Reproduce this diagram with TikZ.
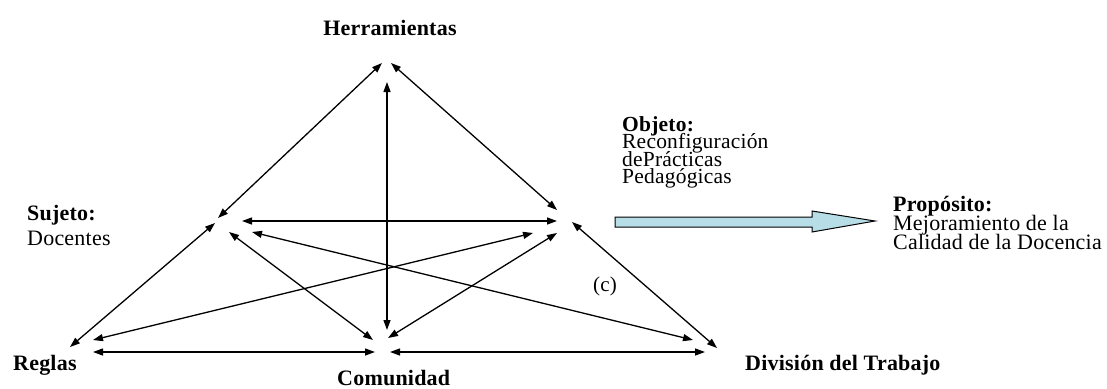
\documentclass[tikz,border=0pt]{standalone}
\usepackage{fontspec}
\setmainfont{Liberation Serif}[LetterSpace=1]
\usetikzlibrary{arrows.meta}
\definecolor{arrowblue}{RGB}{183,222,230}
\newcommand\tightlead{\lineskiplimit=-20pt\relax}
\tikzset{
  link/.style={line width=1.3pt, {Triangle[length=10pt,width=7pt]}-{Triangle[length=10pt,width=7pt]}},
  lbl/.style={inner sep=0pt, font=\fontsize{22}{22}\selectfont\bfseries},
  txt/.style={inner sep=0pt, align=left, anchor=north west},
}

\begin{document}
\begin{tikzpicture}[x=1pt, y=-1pt]
    \useasboundingbox (0,0) rectangle (1107,388);
    % corner labels
    \node[lbl, anchor=base] (herr) at (390,35) {Herramientas};
    \node[lbl, anchor=base west] (reglas) at (13,370) {Reglas};
    \node[lbl, anchor=base west] (comun) at (337,385) {Comunidad};
    \node[lbl, anchor=base west] (divis) at (745,370) {División del Trabajo};
    \node[txt, font={\fontsize{22}{25}\selectfont\tightlead}] (sujeto) at (27,205.5) {\textbf{Sujeto:}\\Docentes};
    \node[txt, font={\fontsize{21.5}{17.3}\selectfont\tightlead}] (objeto) at (622,116.5) {\textbf{Objeto:}\\Reconfiguración\\dePrácticas\\Pedagógicas};
    \node[txt, font={\fontsize{22}{19}\selectfont\tightlead}] (proposito) at (893,196.5) {\textbf{Propósito:}\\Mejoramiento de la\\Calidad de la Docencia};
    \node[inner sep=0pt, anchor=base west, font=\fontsize{21}{21}\selectfont] (c) at (593,291) {(c)};

    % arrow ends round each corner
    \coordinate (h1) at (382,63);
    \coordinate (h2) at (391,63);
    \coordinate (h3) at (387,82);
    \coordinate (s1) at (218,218);
    \coordinate (s2) at (215,223);
    \coordinate (s3) at (242,221);
    \coordinate (s4) at (229,232);
    \coordinate (s5) at (252,232);
    \coordinate (o1) at (557,210);
    \coordinate (o2) at (557,221);
    \coordinate (o3) at (533,233);
    \coordinate (o4) at (557,233);
    \coordinate (o5) at (572,222);
    \coordinate (r1) at (70,347);
    \coordinate (r2) at (93,340);
    \coordinate (r3) at (93,352);
    \coordinate (c1) at (387,330);
    \coordinate (c2) at (373,340);
    \coordinate (c3) at (388,338);
    \coordinate (c4) at (375,352);
    \coordinate (c5) at (390,352);
    \coordinate (d1) at (693,340);
    \coordinate (d2) at (717,348);
    \coordinate (d3) at (705,352);

    % links
    \draw[link] (s1) -- (h1);
    \draw[link] (h2) -- (o1);
    \draw[link] (h3) -- (c1);
    \draw[link] (s3) -- (o2);
    \draw[link] (r1) -- (s2);
    \draw[link] (s4) -- (c2);
    \draw[link] (s5) -- (d1);
    \draw[link] (r2) -- (o3);
    \draw[link] (c3) -- (o4);
    \draw[link] (o5) -- (d2);
    \draw[link] (r3) -- (c4);
    \draw[link] (c5) -- (d3);

    % block arrow to the purpose
    \draw[fill=arrowblue, line width=1pt] (615,217) -- (812,217) -- (812,211) -- (875,221)
        -- (812,232) -- (812,227) -- (615,227) -- cycle;
\end{tikzpicture}
\end{document}
